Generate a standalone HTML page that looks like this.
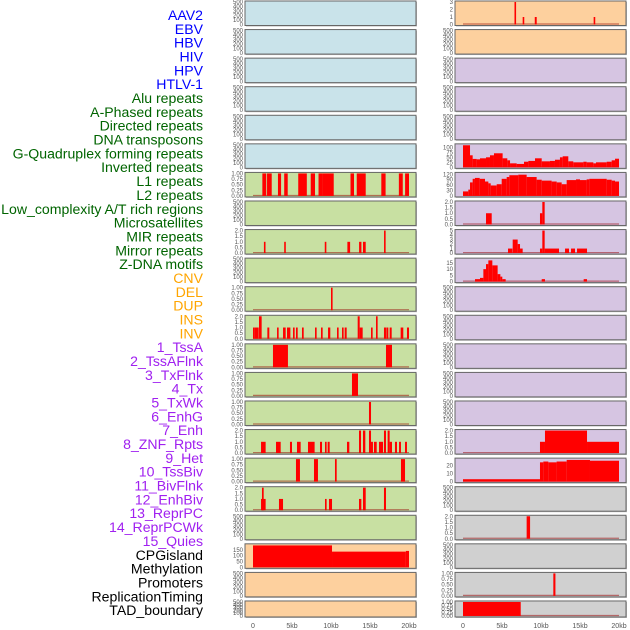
<!DOCTYPE html>
<html><head><meta charset="utf-8">
<style>
html,body{margin:0;padding:0;background:#fff;width:630px;height:630px;overflow:hidden}
svg{display:block}
.lab{font-family:"Liberation Sans",sans-serif;font-size:14.1px}
.tk{font-family:"Liberation Sans",sans-serif;font-size:6px;fill:#555}
.xt{font-family:"Liberation Sans",sans-serif;font-size:7px;fill:#555}
</style></head><body>
<svg id="chart" width="630" height="630"></svg>
<script>
const LABELS = ["AAV2","EBV","HBV","HIV","HPV","HTLV-1","Alu repeats","A-Phased repeats","Directed repeats","DNA transposons","G-Quadruplex forming repeats","Inverted repeats","L1 repeats","L2 repeats","Low_complexity A/T rich regions","Microsatellites","MIR repeats","Mirror repeats","Z-DNA motifs","CNV","DEL","DUP","INS","INV","1_TssA","2_TssAFlnk","3_TxFlnk","4_Tx","5_TxWk","6_EnhG","7_Enh","8_ZNF_Rpts","9_Het","10_TssBiv","11_BivFlnk","12_EnhBiv","13_ReprPC","14_ReprPCWk","15_Quies","CPGisland","Methylation","Promoters","ReplicationTiming","TAD_boundary"];
const GROUP_SIZES = [6,13,5,15,5];
const GROUP_COLORS = ["#0000ff","#006400","#ffa500","#a020f0","#000000"];
const GROUP_BG = ["#c9e3ea","#c8e0a2","#fdd09e","#d6c5e2","#d0d0d0"];
const X_TICKS = [0,5,10,15,20];
const X_TICK_LABELS = ["0","5kb","10kb","15kb","20kb"];

// segment data: [startKb, endKb, value]
const L1_REPEATS = [[1.2,1.7,1],[1.8,2.4,1],[3.2,3.6,1],[4.0,4.45,1],[5.8,6.9,1],[7.4,7.95,1],[8.4,8.9,1],[8.9,10.35,1],[12.5,12.95,1],[13.3,14.45,1],[16.45,17.0,1],[18.7,19.2,1],[19.5,20.0,1]];
const LOWCOMP = [[1.4,1.55,1],[4.0,4.2,1],[9.2,9.35,1],[12.1,12.45,1],[13.6,13.9,1],[14.1,14.45,1],[16.8,16.95,2]];
const MIR = [[10.0,10.2,1]];
const Z_DNA = [[0,0.09,1],[0.21,0.73,1],[0.77,1.11,2],[1.84,2.09,1],[3.08,3.29,1],[3.85,4.19,1],[4.36,4.79,1],[5.13,5.34,1],[5.51,5.73,1],[6.28,6.5,1],[7.95,8.16,1],[8.72,8.93,1],[9.62,9.91,1],[10.77,10.98,1],[11.41,11.62,1],[11.75,12.01,1],[13.42,13.68,2],[13.68,14.06,1],[15.13,15.34,1],[15.77,15.98,2],[16.79,17.05,1],[17.09,17.35,1],[17.52,17.78,1],[18.93,19.27,1],[19.74,20.0,1]];
const CNV = [[2.56,4.48,1],[17.05,17.82,1]];
const DEL = [[12.69,13.46,1]];
const DUP = [[14.87,15.13,1]];
const INS = [[1.03,1.62,1],[2.95,3.55,1],[4.74,5.0,1],[5.64,6.11,1],[7.05,7.9,1],[8.59,8.85,1],[9.23,9.44,1],[9.57,9.83,1],[12.05,12.35,1],[13.59,13.85,2],[14.1,14.4,2],[14.87,15.13,2],[15.13,15.38,1],[15.51,15.86,1],[16.15,16.67,1],[16.79,17.05,2],[17.26,17.52,2],[17.52,17.82,1],[18.2,18.46,1],[18.72,18.97,1],[19.49,19.74,1]];
const INV = [[5.51,6.02,1],[7.82,8.33,1],[10.51,10.73,1],[18.97,19.49,1]];
const TSSA = [[1.03,1.62,1],[1.15,1.37,2],[3.33,3.85,1],[9.23,9.44,1],[9.74,10.13,1],[13.59,13.89,1],[14.1,14.45,2],[16.79,17.05,2]];
const CPGISLAND = [[0,10.13,187],[10.13,19.6,134],[19.6,20.0,140]];
const AAV2 = [[6.6,6.75,3],[7.65,7.8,1],[9.2,9.45,1],[16.75,16.9,1]];
const G_QUAD = [[0,0.9,110],[0.9,1.24,60],[1.24,1.75,42],[1.75,2.18,40],[2.18,2.95,45],[2.95,3.46,50],[3.46,3.97,60],[3.97,5.08,70],[5.08,5.68,45],[5.68,6.03,35],[6.03,6.88,20],[6.88,7.82,17],[7.82,8.38,28],[8.38,9.23,32],[9.23,10.09,45],[10.09,11.15,30],[11.15,11.79,32],[11.79,12.43,38],[12.43,12.78,50],[12.78,13.5,55],[13.5,14.14,30],[14.14,15.43,25],[15.43,15.85,28],[15.85,16.71,25],[16.71,17.05,20],[17.05,18.42,25],[18.42,19.06,28],[19.06,19.49,35],[19.49,20.0,43]];
const INVERTED = [[0,0.68,25],[0.68,0.9,35],[0.9,1.24,75],[1.24,1.53,95],[1.53,2.14,100],[2.14,2.82,95],[2.82,3.25,80],[3.25,3.55,70],[3.55,4.32,58],[4.32,4.96,65],[4.96,5.6,95],[5.6,5.94,105],[5.94,7.09,115],[7.09,8.16,118],[8.16,9.44,105],[9.44,10.09,90],[10.09,11.36,85],[11.36,12.01,80],[12.01,12.65,75],[12.65,13.29,65],[13.29,14.49,88],[14.49,15.0,92],[15.0,15.85,88],[15.85,16.2,92],[16.2,18.42,95],[18.42,19.06,90],[19.06,19.49,85],[19.49,20.0,80]];
const L1_R = [[2.95,3.68,1],[9.87,10.17,1],[10.17,10.47,2]];
const L2_R = [[5.77,6.33,1],[6.37,7.01,3],[7.01,7.31,2],[7.31,7.65,1],[9.87,10.17,1],[10.17,10.47,5],[10.47,12.31,1],[13.08,13.59,1],[13.85,14.36,1],[14.62,15.9,1]];
const LOWCOMP_R = [[1.54,2.18,2],[2.18,2.61,3],[2.61,2.95,10],[2.95,3.25,14],[3.25,3.76,17],[3.76,4.44,13],[4.44,4.79,6],[4.79,5.04,4],[5.04,5.47,2],[10.09,10.51,2],[15.47,15.9,2]];
const ZNF_RPTS = [[9.87,10.51,1],[10.51,15.9,2],[15.9,20.0,1]];
const HET = [[0,9.87,3],[9.87,10.3,24],[10.3,10.94,25],[10.94,12.0,24],[12.0,13.29,25],[13.29,16.28,27],[16.28,20.0,26]];
const REPRPC = [[8.16,8.6,2]];
const REPLTIMING = [[11.58,11.85,1]];
const TAD = [[0,7.4,1]];

const EMPTY = [0,100,200,300,400,500];
const PANELS = [
 ["L",0,0,500,EMPTY,null,"aav2-track"],["L",1,0,500,EMPTY,null,"ebv-track"],["L",2,0,500,EMPTY,null,"hbv-track"],["L",3,0,500,EMPTY,null,"hiv-track"],["L",4,0,500,EMPTY,null,"hpv-track"],["L",5,0,500,EMPTY,null,"htlv1-track"],
 ["L",6,1,1,[0,0.25,0.5,0.75,1],L1_REPEATS,"repeat-track-1"],["L",7,1,500,EMPTY,null,"repeat-track-2"],["L",8,1,2,[0,0.5,1,1.5,2],LOWCOMP,"repeat-track-3"],["L",9,1,500,EMPTY,null,"repeat-track-4"],["L",10,1,1,[0,0.25,0.5,0.75,1],MIR,"repeat-track-5"],["L",11,1,2,[0,0.5,1,1.5,2],Z_DNA,"repeat-track-6"],["L",12,1,1,[0,0.25,0.5,0.75,1],CNV,"repeat-track-7"],["L",13,1,1,[0,0.25,0.5,0.75,1],DEL,"repeat-track-8"],["L",14,1,1,[0,0.25,0.5,0.75,1],DUP,"repeat-track-9"],["L",15,1,2,[0,0.5,1,1.5,2],INS,"repeat-track-10"],["L",16,1,1,[0,0.25,0.5,0.75,1],INV,"repeat-track-11"],["L",17,1,2,[0,0.5,1,1.5,2],TSSA,"repeat-track-12"],["L",18,1,500,EMPTY,null,"repeat-track-13"],
 ["L",19,2,192,[0,50,100,150],CPGISLAND,"cnv-track"],["L",20,2,500,EMPTY,null,"del-track"],["L",21,2,500,EMPTY,null,"dup-track"],
 ["R",0,2,3,[0,1,2,3],AAV2,"ins-track"],["R",1,2,500,EMPTY,null,"inv-track"],
 ["R",2,3,500,EMPTY,null,"state-track-1"],["R",3,3,500,EMPTY,null,"state-track-2"],["R",4,3,500,EMPTY,null,"state-track-3"],["R",5,3,112,[0,25,50,75,100],G_QUAD,"state-track-4"],["R",6,3,125,[0,30,60,90,120],INVERTED,"state-track-5"],["R",7,3,2,[0,0.5,1,1.5,2],L1_R,"state-track-6"],["R",8,3,5,[0,1,2,3,4,5],L2_R,"state-track-7"],["R",9,3,18,[0,5,10,15],LOWCOMP_R,"state-track-8"],["R",10,3,500,EMPTY,null,"state-track-9"],["R",11,3,500,EMPTY,null,"state-track-10"],["R",12,3,500,EMPTY,null,"state-track-11"],["R",13,3,500,EMPTY,null,"state-track-12"],["R",14,3,500,EMPTY,null,"state-track-13"],["R",15,3,2,[0,0.5,1,1.5,2],ZNF_RPTS,"state-track-14"],["R",16,3,28,[0,10,20],HET,"state-track-15"],
 ["R",17,4,500,EMPTY,null,"cpgisland-track"],["R",18,4,2,[0,0.5,1,1.5,2],REPRPC,"methylation-track"],["R",19,4,500,EMPTY,null,"promoters-track"],["R",20,4,1,[0,0.25,0.5,0.75,1],REPLTIMING,"replication-timing-track"],["R",21,4,1,[0,0.25,0.5,0.75,1],TAD,"tad-boundary-track"]
];

const NS="http://www.w3.org/2000/svg";
const svg=document.getElementById('chart');
function mk(tag,attrs,parent){const e=document.createElementNS(NS,tag);for(const k in attrs)e.setAttribute(k,attrs[k]);(parent||svg).appendChild(e);return e;}

let gi=0,cnt=0;
LABELS.forEach((t,i)=>{
  while(cnt>=GROUP_SIZES[gi]){gi++;cnt=0;}
  cnt++;
  const el=mk('text',{x:203,y:15+i*13.84+5,'text-anchor':'end','class':'lab',fill:GROUP_COLORS[gi]});
  el.textContent=t;
  
  
});

const COLX={L:{box:245,x0:253},R:{box:455,x0:463}};
const PXKB=7.8, BOXW=171;
function fmt(v,ticks){const mx=ticks[ticks.length-1];if(mx===1)return v.toFixed(2);if(mx===2)return v.toFixed(1);return String(v);}

PANELS.forEach(p=>{
  const [col,row,g,ymax,ticks,data,name]=p;
  const top=1+row*28.57, h=row===21?16:24.5;
  const c=COLX[col];
  const grp=mk('g',{});
  
  
  mk('rect',{x:c.box+1,y:top+1,width:BOXW,height:h,fill:'#bbb'},grp);
  mk('rect',{x:c.box,y:top,width:BOXW,height:h,fill:GROUP_BG[g],stroke:'#666','stroke-width':1},grp);
  const y0=top+h-1, y1=top+1;
  const ys=v=>y0-(v/ymax)*(y0-y1);
  const xs=kb=>c.x0+kb*PXKB;
  ticks.forEach(t=>{
    const tx=mk('text',{x:c.box-2,y:ys(t)+2,'text-anchor':'end','class':'tk'},grp);
    tx.textContent=fmt(t,ticks);
  });
  if(data){
    mk('line',{x1:xs(0),x2:xs(20),y1:y0-0.5,y2:y0-0.5,stroke:'rgba(150,0,0,0.5)','stroke-width':1.2},grp);
    data.forEach(s=>{
      const x=xs(s[0]), w=Math.max(xs(s[1])-x,1.6);
      const r=mk('rect',{x:x,y:ys(s[2]),width:w,height:y0-ys(s[2]),fill:'#ff0000'},grp);
      
      
    });
  }
});

['L','R'].forEach(col=>{
  X_TICKS.forEach((t,i)=>{
    const tx=mk('text',{x:COLX[col].x0+t*PXKB,y:628,'text-anchor':'middle','class':'xt'});
    tx.textContent=X_TICK_LABELS[i];
    
    
  });
});
</script>
</body></html>
